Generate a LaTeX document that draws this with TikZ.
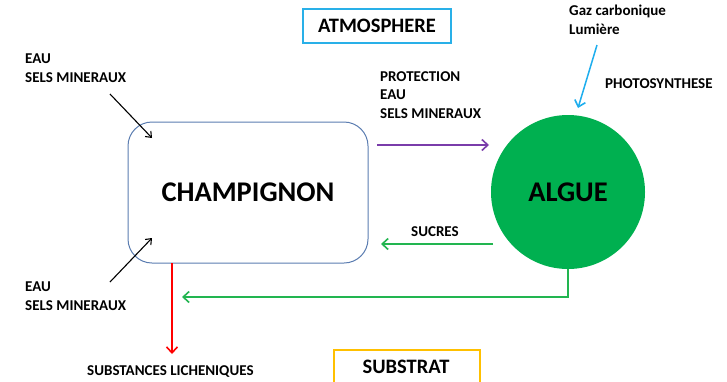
\documentclass[tikz,border=0pt]{standalone}
\usepackage{fontspec}
\setmainfont{Carlito}
\usetikzlibrary{arrows.meta}
\definecolor{boxblue}{HTML}{5B7DB1}
\definecolor{atmblue}{HTML}{29B0E8}
\definecolor{subyel}{HTML}{FFC000}
\definecolor{alggreen}{HTML}{00B050}
\definecolor{arrgreen}{HTML}{22B550}
\definecolor{purp}{HTML}{7A3CAA}
\definecolor{skyb}{HTML}{1EAEEE}
\begin{document}
\begin{tikzpicture}[x=1pt,y=-1pt,
  lbl/.style={font=\bfseries\fontsize{15}{18.8}\selectfont,align=left,inner sep=0pt},
  ttl/.style={font=\bfseries\fontsize{20.5}{24}\selectfont},
  big/.style={font=\bfseries\fontsize{28.5}{32}\selectfont},
  arr/.style={-{Straight Barb[length=6pt,width=11pt,line width=1.6pt]},line width=1.9pt},
  thinarr/.style={-{Straight Barb[length=5pt,width=8pt,line width=1.1pt]},line width=1.1pt,black}]
\useasboundingbox (0,0) rectangle (727,381);
\fill[white] (0,0) rectangle (727,381);
% title boxes
\node[draw=atmblue,line width=1.8pt,minimum width=148pt,minimum height=34pt,inner sep=0pt,ttl] (atm) at (377,26) {ATMOSPHERE};
\node[draw=subyel,line width=1.8pt,minimum width=146pt,minimum height=40pt,inner sep=0pt,anchor=north west] (sub) at (333,349) {};
\node[ttl,anchor=base,inner sep=0pt] (subt) at (406,373) {SUBSTRAT};
% main shapes
\node[draw=boxblue,line width=1pt,rounded corners=24pt,minimum width=240pt,minimum height=141pt,inner sep=0pt,big] (champ) at (248,192.5) {CHAMPIGNON};
\node[circle,fill=alggreen,minimum size=154pt,inner sep=0pt,big] (algue) at (568,192) {ALGUE};
% labels
\node[lbl,anchor=north west] (eau1) at (25,54) {EAU\\SELS MINERAUX};
\node[lbl,anchor=north west] (eau2) at (25,282) {EAU\\SELS MINERAUX};
\node[lbl,anchor=north west] (prot) at (380,71) {PROTECTION\\EAU\\SELS MINERAUX};
\node[lbl,anchor=north west] (gaz) at (569,4.5) {Gaz carbonique\\Lumière};
\node[lbl,anchor=west] (photo) at (605,84) {PHOTOSYNTHESE};
\node[lbl,anchor=west] (sucres) at (411,232) {SUCRES};
\node[lbl,anchor=west] (subst) at (87,372) {SUBSTANCES LICHENIQUES};
% arrow coordinates
\coordinate (b1s) at (110,94);
\coordinate (b1e) at (152,138);
\coordinate (b2s) at (110,282);
\coordinate (b2e) at (152,238);
\coordinate (ps) at (377,145);
\coordinate (pe) at (489,145);
\coordinate (bs) at (597,45);
\coordinate (be) at (578,108);
\coordinate (ss) at (493,244);
\coordinate (se) at (381,244);
\coordinate (gc) at (568,297);
\coordinate (ge) at (182,297);
\coordinate (rs) at (172,263);
\coordinate (re) at (172,354);
% arrows
\draw[thinarr] (b1s) -- (b1e);
\draw[thinarr] (b2s) -- (b2e);
\draw[arr,purp] (ps) -- (pe);
\draw[arr,skyb,line width=1.5pt] (bs) -- (be);
\draw[arr,arrgreen] (ss) -- (se);
\draw[arr,arrgreen] (algue.south) -- (gc) -- (ge);
\draw[arr,red] (rs) -- (re);
\end{tikzpicture}
\end{document}
